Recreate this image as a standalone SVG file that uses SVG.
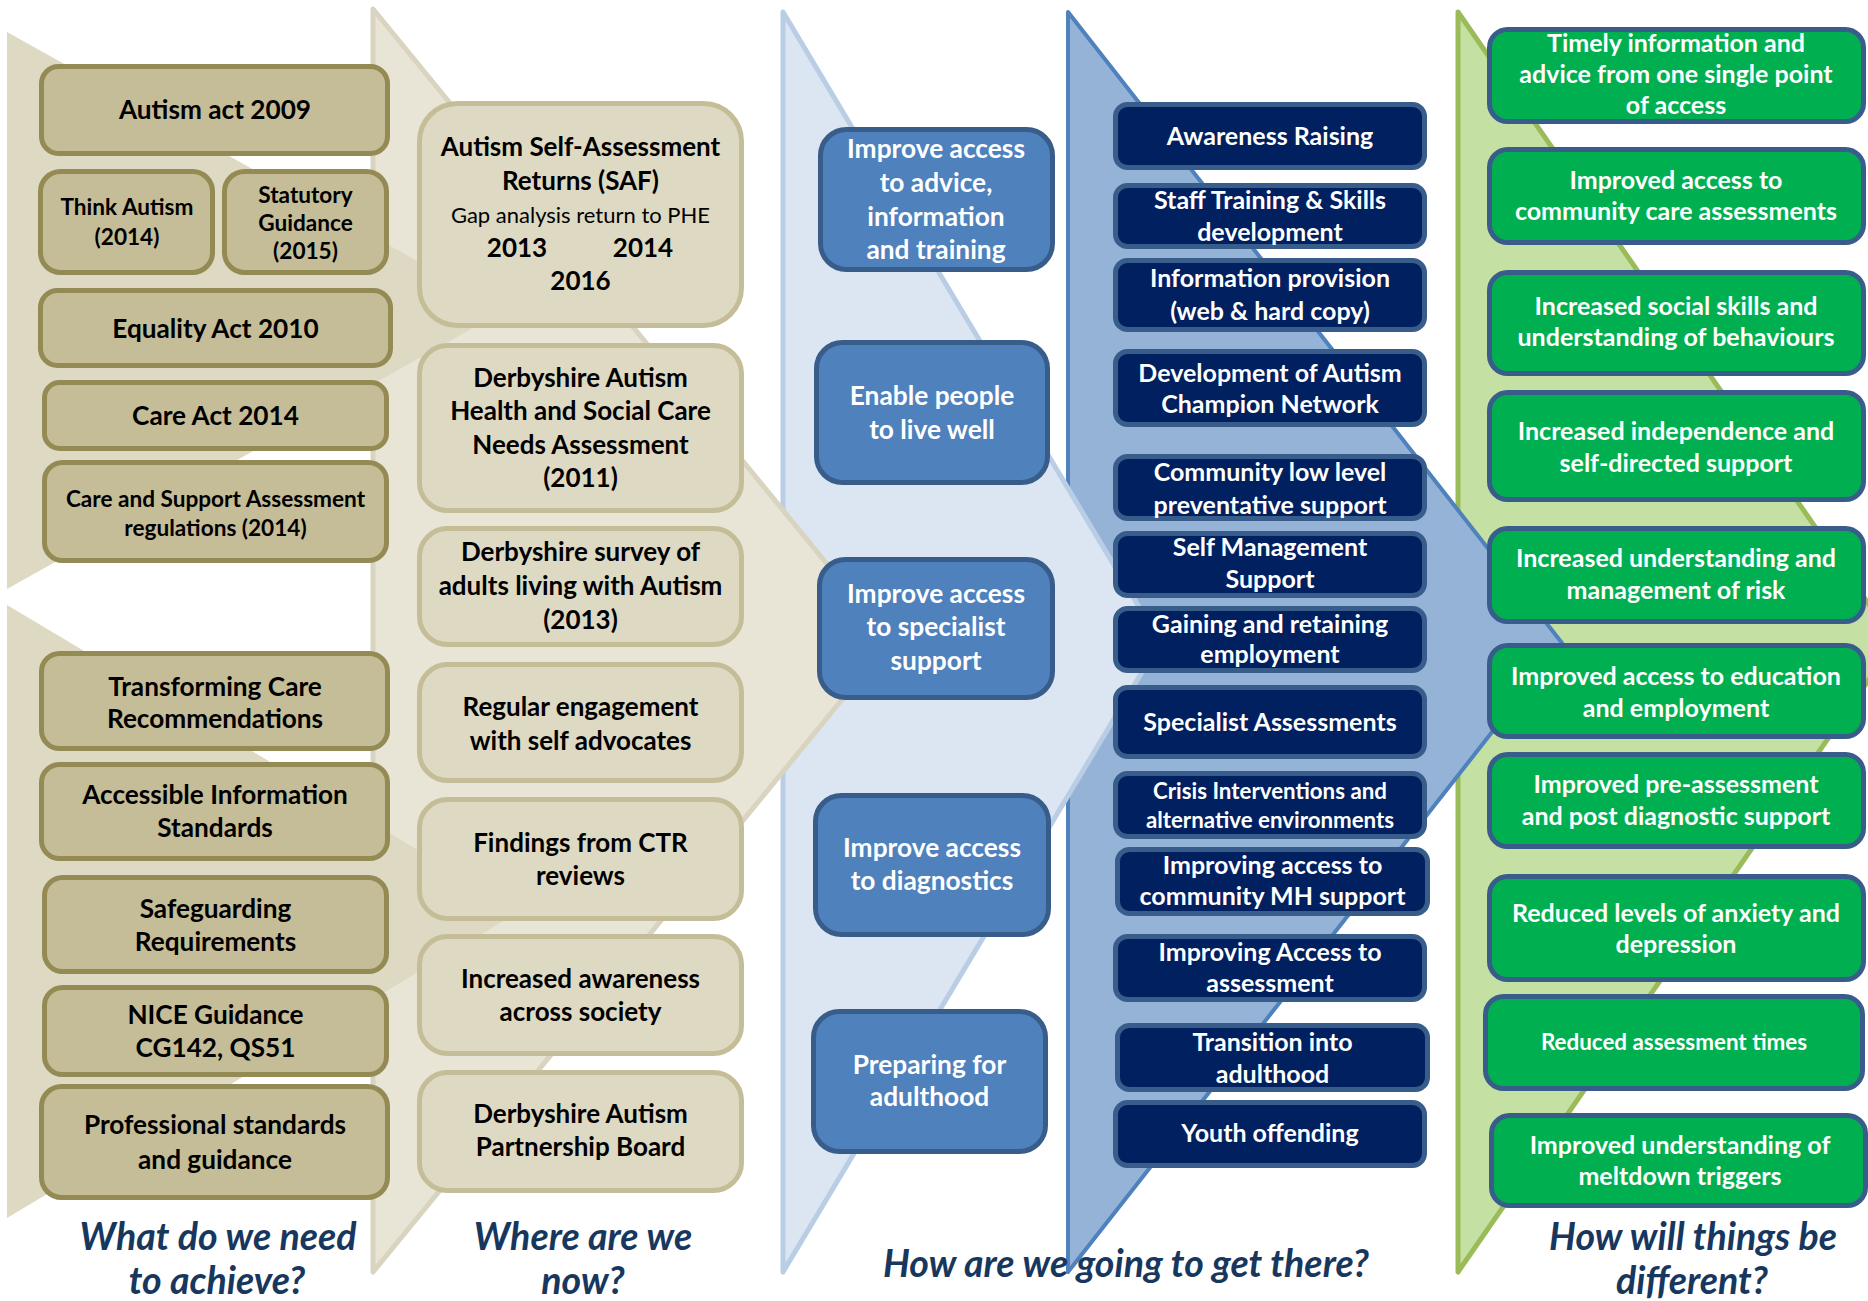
<svg xmlns="http://www.w3.org/2000/svg" width="1868" height="1301" viewBox="0 0 1868 1301">
<style>
text{font-family:Lato,"Open Sans","Liberation Sans",sans-serif;font-weight:bold;text-anchor:middle}
.b1{fill:#c4bd97;stroke:#948a54;stroke-width:5}
.b2{fill:#ddd9c3;stroke:#c4bd97;stroke-width:5}
.b3{fill:#4f81bd;stroke:#385d8a;stroke-width:5}
.b4{fill:#002060;stroke:#385d8a;stroke-width:5}
.b5{fill:#00b050;stroke:#385d8a;stroke-width:5}
.k{fill:#000}
.w{fill:#fff}
.f1{font-size:26.2px}
.f1s{font-size:22.6px}
.f2{font-size:26px}
.f2r{font-size:22px;font-weight:normal}
.f3{font-size:26.3px}
.f4{font-size:25px}
.f4s{font-size:22.3px}
.f5{font-size:25px}
.f5s{font-size:22.4px}
.ttl{font-size:37.5px;font-style:italic;fill:#17375e}
</style>
<g id="background">
<polygon points="1458,12 1895,642 1458,1272" fill="#c4e0a3" stroke="#9bbb59" stroke-width="5" stroke-linejoin="round"/>
<polygon points="1068,12 1562,643 1068,1272" fill="#95b3d7" stroke="#4f81bd" stroke-width="4" stroke-linejoin="round"/>
<polygon points="783,12 1160,642 783,1272" fill="#dce6f2" stroke="#b9cde5" stroke-width="5" stroke-linejoin="round"/>
<polygon points="373,9 890,641 373,1272" fill="#e8e5d6" stroke="#d8d4bf" stroke-width="5" stroke-linejoin="round"/>
<polygon points="7,32 505,310 7,589" fill="#ddd9c3"/>
<polygon points="7,605 520,911 7,1218" fill="#ddd9c3"/>
</g>
<g id="titles">
<text class="ttl" x="218" y="1250">What do we need</text>
<text class="ttl" x="217" y="1294">to achieve?</text>
<text class="ttl" x="583" y="1250">Where are we</text>
<text class="ttl" x="583" y="1294">now?</text>
<text class="ttl" x="1126" y="1277">How are we going to get there?</text>
<text class="ttl" x="1693" y="1250">How will things be</text>
<text class="ttl" x="1692" y="1294">different?</text>
</g>
<g id="col1">
<g id="n-autism-act"><rect class="b1" x="41.5" y="66.5" width="346" height="87" rx="17"/><text class="k f1" x="215" y="119">Autism act 2009</text></g>
<g id="n-think-autism"><rect class="b1" x="40.5" y="171.5" width="172" height="101" rx="20"/><text class="k f1s" x="127" y="215">Think Autism</text><text class="k f1s" x="127" y="245">(2014)</text></g>
<g id="n-statutory"><rect class="b1" x="224.5" y="171.5" width="162" height="101" rx="20"/><text class="k f1s" x="305.5" y="203">Statutory</text><text class="k f1s" x="305.5" y="231">Guidance</text><text class="k f1s" x="305.5" y="259">(2015)</text></g>
<g id="n-equality"><rect class="b1" x="40.5" y="290.5" width="350" height="75" rx="17"/><text class="k f1" x="215.5" y="338">Equality Act 2010</text></g>
<g id="n-care-act"><rect class="b1" x="44.5" y="382.5" width="342" height="66" rx="15"/><text class="k f1" x="215.5" y="425">Care Act 2014</text></g>
<g id="n-care-support"><rect class="b1" x="44.5" y="462.5" width="342" height="98" rx="18"/><text class="k f1s" x="215.5" y="507">Care and Support Assessment</text><text class="k f1s" x="215.5" y="536">regulations (2014)</text></g>
<g id="n-transforming"><rect class="b1" x="41.5" y="653.5" width="346" height="95" rx="18"/><text class="k f1" x="215" y="696">Transforming Care</text><text class="k f1" x="215" y="728">Recommendations</text></g>
<g id="n-accessible"><rect class="b1" x="41.5" y="764.5" width="346" height="94" rx="18"/><text class="k f1" x="215" y="804">Accessible Information</text><text class="k f1" x="215" y="837">Standards</text></g>
<g id="n-safeguarding"><rect class="b1" x="44.5" y="877.5" width="342" height="94" rx="18"/><text class="k f1" x="215.5" y="918">Safeguarding</text><text class="k f1" x="215.5" y="951">Requirements</text></g>
<g id="n-nice"><rect class="b1" x="44.5" y="987.5" width="342" height="87" rx="18"/><text class="k f1" x="215.5" y="1024">NICE Guidance</text><text class="k f1" x="215.5" y="1057">CG142, QS51</text></g>
<g id="n-professional"><rect class="b1" x="41.5" y="1086.5" width="346" height="111" rx="20"/><text class="k f1" x="215" y="1134">Professional standards</text><text class="k f1" x="215" y="1169">and guidance</text></g>
</g>
<g id="col2">
<g id="n-saf"><rect class="b2" x="419.5" y="103.5" width="322" height="222" rx="38"/><text class="k f2" x="580.5" y="156">Autism Self-Assessment</text><text class="k f2" x="580.5" y="190">Returns (SAF)</text><text class="k f2r" x="580.5" y="223">Gap analysis return to PHE</text><text class="k f2" y="257"><tspan x="517">2013</tspan><tspan x="643">2014</tspan></text><text class="k f2" x="580.5" y="290">2016</text></g>
<g id="n-needs"><rect class="b2" x="419.5" y="345.5" width="322" height="165" rx="28"/><text class="k f2" x="580.5" y="387">Derbyshire  Autism</text><text class="k f2" x="580.5" y="420">Health and Social Care</text><text class="k f2" x="580.5" y="454">Needs Assessment</text><text class="k f2" x="580.5" y="487">(2011)</text></g>
<g id="n-survey"><rect class="b2" x="419.5" y="528.5" width="322" height="116" rx="28"/><text class="k f2" x="580.5" y="561">Derbyshire  survey of</text><text class="k f2" x="580.5" y="595">adults living with Autism</text><text class="k f2" x="580.5" y="629">(2013)</text></g>
<g id="n-regular"><rect class="b2" x="419.5" y="664.5" width="322" height="116" rx="28"/><text class="k f2" x="580.5" y="716">Regular engagement</text><text class="k f2" x="580.5" y="750">with self advocates</text></g>
<g id="n-findings"><rect class="b2" x="419.5" y="799.5" width="322" height="119" rx="28"/><text class="k f2" x="580.5" y="852">Findings from CTR</text><text class="k f2" x="580.5" y="885">reviews</text></g>
<g id="n-awareness-society"><rect class="b2" x="419.5" y="936.5" width="322" height="117" rx="28"/><text class="k f2" x="580.5" y="988">Increased awareness</text><text class="k f2" x="580.5" y="1021">across society</text></g>
<g id="n-partnership"><rect class="b2" x="419.5" y="1072.5" width="322" height="118" rx="28"/><text class="k f2" x="580.5" y="1123">Derbyshire Autism</text><text class="k f2" x="580.5" y="1156">Partnership Board</text></g>
</g>
<g id="col3">
<g id="n-advice"><rect class="b3" x="820.5" y="129.5" width="232" height="140" rx="26"/><text class="w f3" x="936" y="158">Improve access</text><text class="w f3" x="936" y="192">to advice,</text><text class="w f3" x="936" y="226">information</text><text class="w f3" x="936" y="259">and training</text></g>
<g id="n-live-well"><rect class="b3" x="816.5" y="342.5" width="231" height="140" rx="26"/><text class="w f3" x="932" y="405">Enable people</text><text class="w f3" x="932" y="439">to live well</text></g>
<g id="n-specialist"><rect class="b3" x="819.5" y="559.5" width="233" height="138" rx="26"/><text class="w f3" x="936" y="603">Improve access</text><text class="w f3" x="936" y="636">to specialist</text><text class="w f3" x="936" y="670">support</text></g>
<g id="n-diagnostics"><rect class="b3" x="815.5" y="795.5" width="233" height="139" rx="26"/><text class="w f3" x="932" y="857">Improve access</text><text class="w f3" x="932" y="890">to diagnostics</text></g>
<g id="n-adulthood"><rect class="b3" x="813.5" y="1011.5" width="232" height="140" rx="26"/><text class="w f3" x="929.5" y="1074">Preparing for</text><text class="w f3" x="929.5" y="1106">adulthood</text></g>
</g>
<g id="col4">
<g id="n-awareness-raising"><rect class="b4" x="1115.5" y="104.5" width="309" height="63" rx="12"/><text class="w f4" x="1270" y="145">Awareness Raising</text></g>
<g id="n-staff"><rect class="b4" x="1115.5" y="185.5" width="309" height="61" rx="12"/><text class="w f4" x="1270" y="209">Staff Training &amp; Skills</text><text class="w f4" x="1270" y="241">development</text></g>
<g id="n-info"><rect class="b4" x="1115.5" y="260.5" width="309" height="69" rx="12"/><text class="w f4" x="1270" y="287">Information provision</text><text class="w f4" x="1270" y="320">(web &amp; hard copy)</text></g>
<g id="n-champion"><rect class="b4" x="1115.5" y="351.5" width="309" height="73" rx="12"/><text class="w f4" x="1270" y="382">Development of Autism</text><text class="w f4" x="1270" y="413">Champion Network</text></g>
<g id="n-community"><rect class="b4" x="1115.5" y="456.5" width="309" height="62" rx="12"/><text class="w f4" x="1270" y="481">Community low level</text><text class="w f4" x="1270" y="514">preventative support</text></g>
<g id="n-self-mgmt"><rect class="b4" x="1115.5" y="533.5" width="309" height="62" rx="12"/><text class="w f4" x="1270" y="556">Self Management</text><text class="w f4" x="1270" y="588">Support</text></g>
<g id="n-employment"><rect class="b4" x="1115.5" y="608.5" width="309" height="62" rx="12"/><text class="w f4" x="1270" y="633">Gaining and retaining</text><text class="w f4" x="1270" y="663">employment</text></g>
<g id="n-spec-assess"><rect class="b4" x="1115.5" y="687.5" width="309" height="69" rx="12"/><text class="w f4" x="1270" y="731">Specialist Assessments</text></g>
<g id="n-crisis"><rect class="b4" x="1115.5" y="773.5" width="309" height="63" rx="12"/><text class="w f4s" x="1270" y="799">Crisis Interventions and</text><text class="w f4s" x="1270" y="828">alternative environments</text></g>
<g id="n-mh"><rect class="b4" x="1117.5" y="849.5" width="310" height="64" rx="12"/><text class="w f4" x="1272.5" y="874">Improving access to</text><text class="w f4" x="1272.5" y="905">community MH support</text></g>
<g id="n-access-assess"><rect class="b4" x="1115.5" y="936.5" width="309" height="63" rx="12"/><text class="w f4" x="1270" y="961">Improving Access to</text><text class="w f4" x="1270" y="992">assessment</text></g>
<g id="n-transition"><rect class="b4" x="1117.5" y="1025.5" width="310" height="64" rx="12"/><text class="w f4" x="1272.5" y="1051">Transition into</text><text class="w f4" x="1272.5" y="1083">adulthood</text></g>
<g id="n-youth"><rect class="b4" x="1115.5" y="1102.5" width="309" height="63" rx="12"/><text class="w f4" x="1270" y="1142">Youth offending</text></g>
</g>
<g id="col5">
<g id="n-timely"><rect class="b5" x="1489.5" y="29.5" width="374" height="92" rx="18"/><text class="w f5" x="1676" y="52">Timely information and</text><text class="w f5" x="1676" y="83">advice from one single point</text><text class="w f5" x="1676" y="114">of access</text></g>
<g id="n-community-care"><rect class="b5" x="1489.5" y="149.5" width="374" height="93" rx="18"/><text class="w f5" x="1676" y="189">Improved access to</text><text class="w f5" x="1676" y="220">community care assessments</text></g>
<g id="n-social"><rect class="b5" x="1489.5" y="272.5" width="374" height="101" rx="18"/><text class="w f5" x="1676" y="315">Increased social skills and</text><text class="w f5" x="1676" y="346">understanding of behaviours</text></g>
<g id="n-independence"><rect class="b5" x="1489.5" y="392.5" width="374" height="107" rx="18"/><text class="w f5" x="1676" y="440">Increased independence and</text><text class="w f5" x="1676" y="472">self-directed support</text></g>
<g id="n-risk"><rect class="b5" x="1489.5" y="528.5" width="374" height="93" rx="18"/><text class="w f5" x="1676" y="567">Increased understanding and</text><text class="w f5" x="1676" y="599">management of risk</text></g>
<g id="n-education"><rect class="b5" x="1489.5" y="645.5" width="374" height="91" rx="18"/><text class="w f5" x="1676" y="685">Improved access to education</text><text class="w f5" x="1676" y="717">and employment</text></g>
<g id="n-pre-assess"><rect class="b5" x="1489.5" y="754.5" width="374" height="92" rx="18"/><text class="w f5" x="1676" y="793">Improved pre-assessment</text><text class="w f5" x="1676" y="825">and post diagnostic support</text></g>
<g id="n-anxiety"><rect class="b5" x="1489.5" y="876.5" width="374" height="103" rx="18"/><text class="w f5" x="1676" y="922">Reduced levels of anxiety and</text><text class="w f5" x="1676" y="953">depression</text></g>
<g id="n-times"><rect class="b5" x="1485.5" y="996.5" width="377" height="92" rx="18"/><text class="w f5s" x="1674" y="1050">Reduced assessment times</text></g>
<g id="n-meltdown"><rect class="b5" x="1491.5" y="1115.5" width="374" height="90" rx="18"/><text class="w f5" x="1680" y="1154">Improved understanding of</text><text class="w f5" x="1680" y="1185">meltdown triggers</text></g>
</g>
</svg>
